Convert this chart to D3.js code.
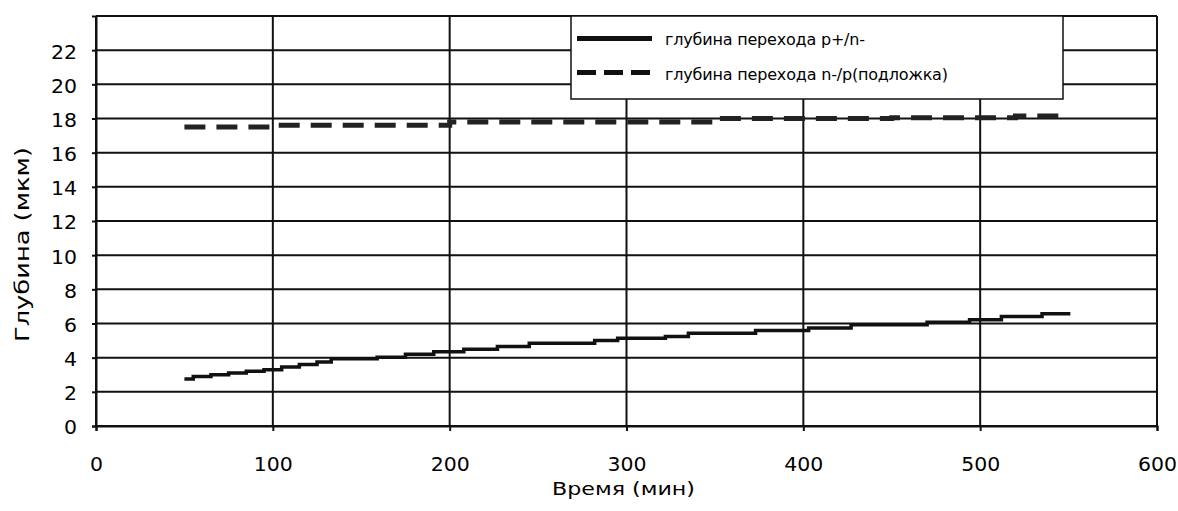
<!DOCTYPE html>
<html>
<head>
<meta charset="utf-8">
<script src="https://cdn.jsdelivr.net/npm/d3@7"></script>
<style>
  body { margin: 0; background: #fff; }
  text { font-family: "DejaVu Sans", sans-serif; fill: #000; }
</style>
</head>
<body>
<svg id="chart"></svg>
<script>
// p+/n- junction depth (solid, stepped)
var timeA  = [50, 55, 65, 75, 85, 95, 105, 115, 125, 133, 159, 175, 191, 208, 227, 245, 282, 295, 322, 335, 373, 403, 427, 470, 494, 512, 535, 551]
var depthA = [2.75, 2.9, 3.0, 3.1, 3.2, 3.3, 3.45, 3.6, 3.75, 3.93, 4.03, 4.2, 4.34, 4.5, 4.65, 4.85, 5.0, 5.14, 5.24, 5.43, 5.59, 5.73, 5.92, 6.08, 6.22, 6.41, 6.57, 6.57]

// n-/p (substrate) junction depth (dashed)
var timeB  = [50, 100, 200, 350, 450, 520, 550]
var depthB = [17.5, 17.6, 17.8, 18.0, 18.05, 18.15, 18.15]

var xTicks = [0, 100, 200, 300, 400, 500, 600]
var yTicks = [0, 2, 4, 6, 8, 10, 12, 14, 16, 18, 20, 22]

var legendLabels = ["глубина перехода p+/n-", "глубина перехода n-/p(подложка)"]

var dimensions = ({
    width: 1178,
    height: 511,
    margin: { top: 16, bottom: 85, right: 21, left: 96 }
})

var svg = d3.select("#chart")
    .attr("width", dimensions.width)
    .attr("height", dimensions.height)

var innerW = dimensions.width - dimensions.margin.left - dimensions.margin.right
var innerH = dimensions.height - dimensions.margin.top - dimensions.margin.bottom

var xScale = d3.scaleLinear().domain([0, 600]).range([0, innerW])
var yScale = d3.scaleLinear().domain([0, 24]).range([innerH, 0])

var g = svg.append("g")
    .attr("transform", "translate(" + dimensions.margin.left + "," + dimensions.margin.top + ")")

// grid
g.selectAll(".hgrid").data(yTicks.concat([24])).enter().append("line")
    .attr("x1", 0).attr("x2", innerW)
    .attr("y1", d => yScale(d)).attr("y2", d => yScale(d))
    .attr("stroke", "#111").attr("stroke-width", 2)

g.selectAll(".vgrid").data(xTicks).enter().append("line")
    .attr("y1", 0).attr("y2", innerH)
    .attr("x1", d => xScale(d)).attr("x2", d => xScale(d))
    .attr("stroke", "#111").attr("stroke-width", 2)

// axes
var xAxis = d3.axisBottom(xScale).tickValues(xTicks).tickSize(5)
var gx = g.append("g").attr("transform", "translate(0," + innerH + ")").call(xAxis)
gx.select(".domain").attr("stroke", "#111").attr("stroke-width", 2)
gx.selectAll(".tick line").attr("stroke", "#111").attr("stroke-width", 2)
gx.selectAll("text")
    .attr("y", 45).attr("dy", null)
    .attr("fill", "#000")
    .style("font-size", "19px").style("font-family", "DejaVu Sans, sans-serif")
    .attr("textLength", function () { return 13 * this.textContent.length })
    .attr("lengthAdjust", "spacingAndGlyphs")

var yAxis = d3.axisLeft(yScale).tickValues(yTicks).tickSize(4).tickPadding(15)
var gy = g.append("g").call(yAxis)
gy.select(".domain").attr("stroke", "#111").attr("stroke-width", 2)
gy.selectAll(".tick line").attr("stroke", "#111").attr("stroke-width", 2)
gy.selectAll("text")
    .attr("dy", "0.42em")
    .attr("fill", "#000")
    .style("font-size", "19px").style("font-family", "DejaVu Sans, sans-serif")
    .attr("textLength", function () { return 13 * this.textContent.length })
    .attr("lengthAdjust", "spacingAndGlyphs")

// series
var dataA = timeA.map((t, i) => ({ t: t, v: depthA[i] }))
var dataB = timeB.map((t, i) => ({ t: t, v: depthB[i] }))

var lineStep = d3.line().x(d => xScale(d.t)).y(d => yScale(d.v)).curve(d3.curveStepAfter)

g.append("path").datum(dataA)
    .attr("d", lineStep)
    .attr("fill", "none").attr("stroke", "#111").attr("stroke-width", 3.5)

g.append("path").datum(dataB)
    .attr("d", lineStep)
    .attr("fill", "none").attr("stroke", "#222").attr("stroke-width", 5)
    .attr("stroke-dasharray", "21,11")

// axis titles
svg.append("text")
    .attr("x", 552)
    .attr("y", 495)
    .attr("fill", "#000")
    .style("font-size", "18px")
    .attr("textLength", 143).attr("lengthAdjust", "spacingAndGlyphs")
    .text("Время (мин)")

svg.append("text")
    .attr("transform", "translate(29,342) rotate(-90)")
    .attr("fill", "#000")
    .style("font-size", "19px")
    .attr("textLength", 195).attr("lengthAdjust", "spacingAndGlyphs")
    .text("Глубина (мкм)")

// legend
var legend = svg.append("g").attr("transform", "translate(571,16)")
legend.append("rect")
    .attr("width", 492).attr("height", 83)
    .attr("fill", "#fff").attr("stroke", "#111").attr("stroke-width", 1.5)

var legendWidths = [200, 283]
legendLabels.forEach(function (label, i) {
    var ly = 22.5 + i * 34
    legend.append("line")
        .attr("x1", 6).attr("x2", 81).attr("y1", ly).attr("y2", ly)
        .attr("stroke", "#111").attr("stroke-width", 5)
        .attr("stroke-dasharray", i == 0 ? null : "19,8")
    legend.append("text")
        .attr("x", 94).attr("y", ly + 6 + i * 1)
        .attr("fill", "#000")
        .style("font-size", "16px")
        .attr("textLength", legendWidths[i]).attr("lengthAdjust", "spacing")
        .text(label)
})
</script>
</body>
</html>
